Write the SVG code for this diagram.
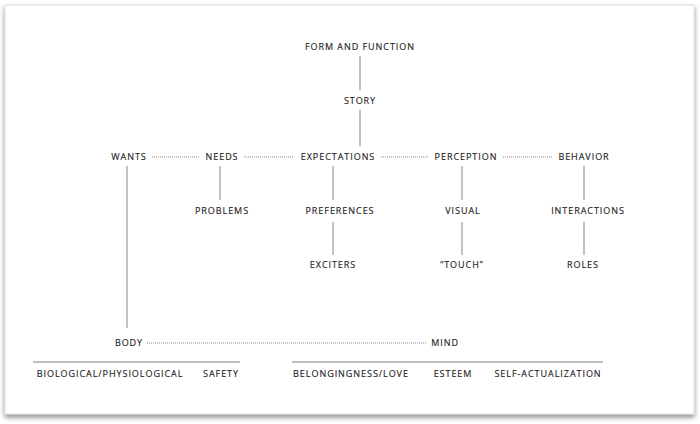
<svg xmlns="http://www.w3.org/2000/svg" width="700" height="424" viewBox="0 0 700 424">
<defs>
<filter id="sh" x="-5%" y="-5%" width="110%" height="115%">
<feGaussianBlur in="SourceAlpha" stdDeviation="2.5"/>
<feOffset dx="0" dy="3" result="b"/>
<feComponentTransfer><feFuncA type="linear" slope="0.45"/></feComponentTransfer>
<feMerge><feMergeNode/><feMergeNode in="SourceGraphic"/></feMerge>
</filter>
<style>
text{font-family:"Open Sans","Liberation Sans",sans-serif;font-size:9px;fill:#1f1f1f;letter-spacing:0.95px;text-anchor:middle;stroke:#1f1f1f;stroke-width:0.15}
.s{stroke:#a8a8a8;stroke-width:1.4;fill:none}
.d{stroke:#8a8a8a;stroke-width:1;stroke-dasharray:1 1;fill:none}
</style>
</defs>
<rect width="700" height="424" fill="#ffffff"/>
<rect x="5" y="5" width="689" height="409" fill="#ffffff" stroke="#dcdcdc" stroke-width="1" filter="url(#sh)"/>
<g id="connectors">
<line class="s" x1="360" y1="56" x2="360" y2="90"/>
<line class="s" x1="360" y1="110" x2="360" y2="146"/>
<line class="d" x1="152" y1="157" x2="200" y2="157"/>
<line class="d" x1="244" y1="157" x2="294" y2="157"/>
<line class="d" x1="381" y1="157" x2="428" y2="157"/>
<line class="d" x1="503" y1="157" x2="552" y2="157"/>
<line class="s" x1="220" y1="166" x2="220" y2="200"/>
<line class="s" x1="333" y1="166" x2="333" y2="200"/>
<line class="s" x1="462" y1="166" x2="462" y2="200"/>
<line class="s" x1="584" y1="166" x2="584" y2="200"/>
<line class="s" x1="333" y1="222" x2="333" y2="255"/>
<line class="s" x1="462" y1="222" x2="462" y2="255"/>
<line class="s" x1="584" y1="222" x2="584" y2="255"/>
<line class="s" x1="127" y1="166" x2="127" y2="328"/>
<line class="d" x1="147" y1="343" x2="426" y2="343"/>
<line class="s" x1="33" y1="362" x2="240" y2="362"/>
<line class="s" x1="292" y1="362" x2="603" y2="362"/>
</g>
<g id="form-and-function"><text x="360" y="50">FORM AND FUNCTION</text></g>
<g id="story"><text x="360" y="104">STORY</text></g>
<g id="wants"><text x="129" y="160">WANTS</text></g>
<g id="needs"><text x="222" y="160">NEEDS</text></g>
<g id="expectations"><text x="338" y="160">EXPECTATIONS</text></g>
<g id="perception"><text x="466" y="160">PERCEPTION</text></g>
<g id="behavior"><text x="584" y="160">BEHAVIOR</text></g>
<g id="problems"><text x="222" y="214">PROBLEMS</text></g>
<g id="preferences"><text x="340" y="214">PREFERENCES</text></g>
<g id="visual"><text x="463" y="214">VISUAL</text></g>
<g id="interactions"><text x="588" y="214">INTERACTIONS</text></g>
<g id="exciters"><text x="333" y="268">EXCITERS</text></g>
<g id="touch"><text x="462" y="268">“TOUCH”</text></g>
<g id="roles"><text x="583" y="268">ROLES</text></g>
<g id="body"><text x="129" y="346">BODY</text></g>
<g id="mind"><text x="445" y="346">MIND</text></g>
<g id="maslow">
<text x="110" y="377">BIOLOGICAL/PHYSIOLOGICAL</text>
<text x="221" y="377">SAFETY</text>
<text x="351" y="377">BELONGINGNESS/LOVE</text>
<text x="453" y="377">ESTEEM</text>
<text x="548" y="377">SELF-ACTUALIZATION</text>
</g>
</svg>
